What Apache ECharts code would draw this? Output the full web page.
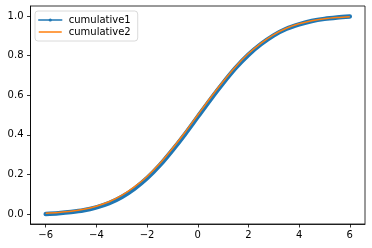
<!DOCTYPE html>
<html><head><meta charset="utf-8">
<script src="https://cdn.jsdelivr.net/npm/echarts@6/dist/echarts.min.js"></script>
<style>html,body{margin:0;padding:0;background:#fff}#c{width:372px;height:248px}</style>
</head><body><div id="c"></div>
<script>
const xValues = [-6,-5.5,-5,-4.5,-4,-3.5,-3,-2.5,-2,-1.5,-1,-0.5,0,0.5,1,1.5,2,2.5,3,3.5,4,4.5,5,5.5,6];
const cumulative1 = [0.000,0.004,0.010,0.019,0.034,0.055,0.086,0.128,0.181,0.246,0.322,0.404,0.491,0.578,0.661,0.738,0.804,0.858,0.902,0.935,0.957,0.974,0.985,0.992,0.997];
const cumulative2 = [0.004,0.008,0.014,0.024,0.040,0.062,0.094,0.137,0.190,0.255,0.331,0.413,0.500,0.587,0.669,0.745,0.810,0.863,0.906,0.938,0.960,0.976,0.986,0.992,0.996];
const xTicks = [-6,-4,-2,0,2,4,6];
const yTicks = [0,0.2,0.4,0.6,0.8,1.0];

const chart = echarts.init(document.getElementById('c'), null, {renderer:'canvas'});
const font = 'DejaVu Sans';
chart.setOption({
  animation:false,
  grid:{left:30.5,right:7,top:6,bottom:24,show:true,borderColor:'#000',borderWidth:0.8,backgroundColor:'#fff'},
  legend:{
    orient:'vertical',left:35,top:11,
    padding:[4,7,4,3],itemGap:2,itemWidth:23,itemHeight:4,
    borderColor:'#d0d0d0',borderWidth:0.8,borderRadius:3,backgroundColor:'rgba(255,255,255,0.8)',
    textStyle:{fontFamily:font,fontSize:10,color:'#000',padding:[0,0,0,2]},
    data:[{name:'cumulative1',lineStyle:{width:1.5}},
          {name:'cumulative2',lineStyle:{width:1.5},itemStyle:{opacity:0}}]
  },
  xAxis:{type:'value',min:-6.6,max:6.6,
    axisLine:{show:true,onZero:false,lineStyle:{color:'#000',width:0.8}},
    axisTick:{show:true,length:3.5,customValues:xTicks,lineStyle:{color:'#000',width:0.8}},
    axisLabel:{customValues:xTicks,margin:6,fontFamily:font,fontSize:10,color:'#000',
      formatter:v=>String(v).replace('-','\u2212')},
    splitLine:{show:false}},
  yAxis:{type:'value',min:-0.05,max:1.05,
    axisLine:{show:true,onZero:false,lineStyle:{color:'#000',width:0.8}},
    axisTick:{show:true,length:3.5,customValues:yTicks,lineStyle:{color:'#000',width:0.8}},
    axisLabel:{customValues:yTicks,margin:7,fontFamily:font,fontSize:10,color:'#000',
      formatter:v=>v.toFixed(1)},
    splitLine:{show:false}},
  series:[
    {name:'cumulative1',type:'line',smooth:0.3,data:xValues.map((x,i)=>[x,cumulative1[i]]),
     symbol:'circle',symbolSize:5,showSymbol:false,color:'#1f77b4',
     lineStyle:{color:'#1f77b4',width:4.5,cap:'round'},itemStyle:{color:'#1f77b4'}},
    {name:'cumulative2',type:'line',smooth:0.3,data:xValues.map((x,i)=>[x,cumulative2[i]]),
     symbol:'none',color:'#ff7f0e',lineStyle:{color:'#ff7f0e',width:1.5}}
  ]
});
</script></body></html>
